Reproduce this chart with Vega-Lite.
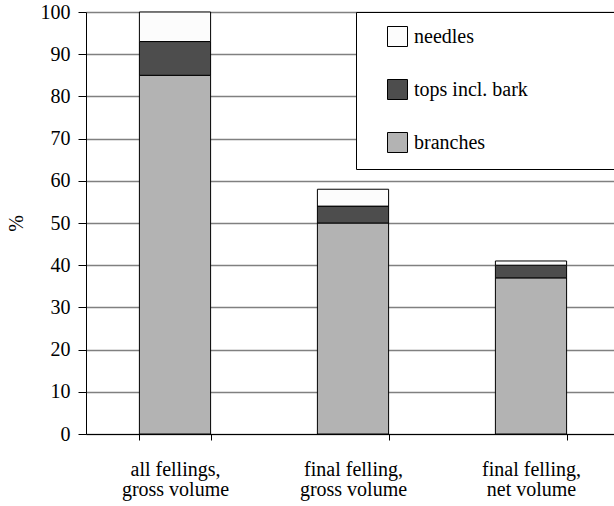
{
  "$schema": "https://vega.github.io/schema/vega-lite/v6.json",
  "width": 534,
  "height": 422,
  "autosize": {"type": "none"},
  "padding": {"left": 86, "top": 12, "right": 0, "bottom": 72},
  "background": "white",
  "config": {
    "font": "Liberation Serif",
    "view": {"stroke": null}
  },
  "data": {
    "values": [
      {"category": "all fellings, gross volume", "part": "branches", "value": 85, "ord": 1},
      {"category": "all fellings, gross volume", "part": "tops incl. bark", "value": 8, "ord": 2},
      {"category": "all fellings, gross volume", "part": "needles", "value": 7, "ord": 3},
      {"category": "final felling, gross volume", "part": "branches", "value": 50, "ord": 1},
      {"category": "final felling, gross volume", "part": "tops incl. bark", "value": 4, "ord": 2},
      {"category": "final felling, gross volume", "part": "needles", "value": 4, "ord": 3},
      {"category": "final felling, net volume", "part": "branches", "value": 37, "ord": 1},
      {"category": "final felling, net volume", "part": "tops incl. bark", "value": 3, "ord": 2},
      {"category": "final felling, net volume", "part": "needles", "value": 1, "ord": 3}
    ]
  },
  "mark": {"type": "bar", "stroke": "black", "strokeWidth": 1},
  "encoding": {
    "x": {
      "field": "category",
      "type": "nominal",
      "sort": null,
      "scale": {"paddingInner": 0.6, "paddingOuter": 0.3},
      "axis": {
        "title": null,
        "labelAngle": 0,
        "labelFont": "Liberation Serif",
        "labelColor": "black",
        "labelFontSize": 20,
        "labelLineHeight": 20,
        "labelPadding": 19,
        "tickBand": "extent",
        "tickSize": 6,
        "tickColor": "black",
        "domainColor": "black",
        "grid": false,
        "labelLimit": 300,
        "labelExpr": "datum.label ? [split(datum.label, ', ')[0] + ',', split(datum.label, ', ')[1]] : ''"
      }
    },
    "y": {
      "field": "value",
      "type": "quantitative",
      "stack": "zero",
      "scale": {"domain": [0, 100], "nice": false},
      "axis": {
        "title": "%",
        "titleFont": "Liberation Serif",
        "titleColor": "black",
        "titleFontSize": 20,
        "titleFontWeight": "normal",
        "titlePadding": 14,
        "values": [0, 10, 20, 30, 40, 50, 60, 70, 80, 90, 100],
        "labelFont": "Liberation Serif",
        "labelColor": "black",
        "labelFontSize": 20,
        "labelPadding": 8,
        "tickSize": 8,
        "tickColor": "black",
        "domainColor": "black",
        "gridColor": "#808080",
        "gridWidth": 1.5
      }
    },
    "fill": {
      "field": "part",
      "type": "nominal",
      "scale": {
        "domain": ["needles", "tops incl. bark", "branches"],
        "range": ["#fcfcfc", "#4d4d4d", "#b3b3b3"]
      },
      "legend": {
        "title": null,
        "orient": "none",
        "legendX": 270,
        "legendY": 0,
        "direction": "vertical",
        "strokeColor": "black",
        "fillColor": "white",
        "padding": 14,
        "rowPadding": 28,
        "symbolType": "square",
        "symbolSize": 400,
        "symbolStrokeColor": "black",
        "symbolStrokeWidth": 1,
        "symbolOffset": 17,
        "labelOffset": 6,
        "labelFont": "Liberation Serif",
        "labelFontSize": 20,
        "labelColor": "black",
        "labelLimit": 400,
        "labelExpr": "datum.label + '\u00a0\u00a0\u00a0\u00a0\u00a0\u00a0\u00a0\u00a0\u00a0\u00a0\u00a0\u00a0\u00a0\u00a0\u00a0\u200b'"
      }
    },
    "order": {"field": "ord", "type": "quantitative"}
  }
}
